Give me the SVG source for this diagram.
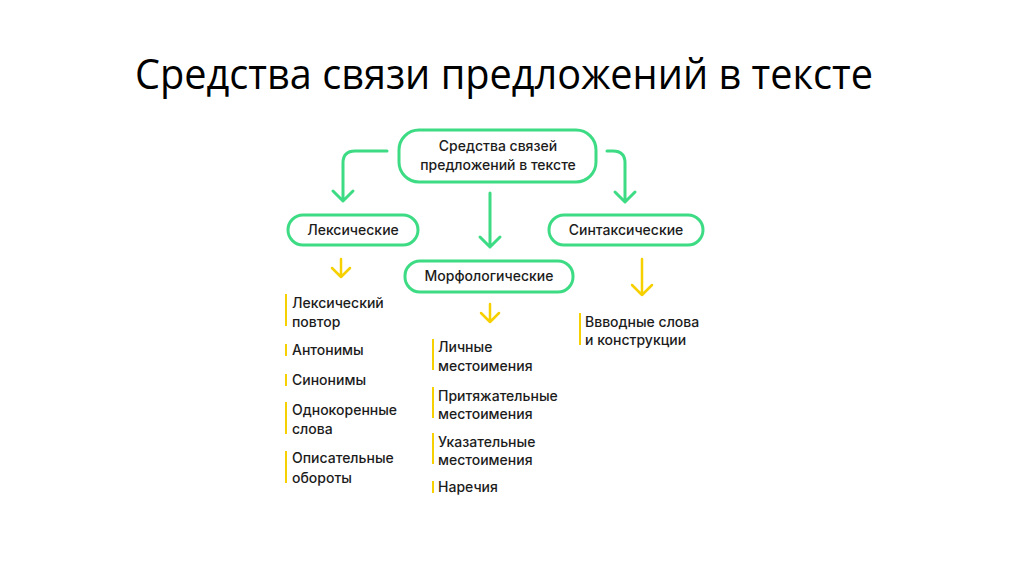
<svg xmlns="http://www.w3.org/2000/svg" width="1024" height="574" viewBox="0 0 1024 574">
<style>
.title{font-family:"Open Sans","Liberation Sans",sans-serif;font-size:42px;fill:#000}
.n{font-family:"Inter","Liberation Sans",sans-serif;font-size:14px;font-weight:500;fill:#1c1c1c}
.box{fill:#fff;stroke:#3ddc84;stroke-width:3}
.g{fill:none;stroke:#3ddc84;stroke-width:3;stroke-linecap:round;stroke-linejoin:round}
.y{fill:none;stroke:#f7d000;stroke-width:2.5;stroke-linecap:round;stroke-linejoin:round}
.bar{stroke:#f7d000;stroke-width:2}
</style>
<rect width="1024" height="574" fill="#fff"/>
<text class="title" x="135" y="89" textLength="738" lengthAdjust="spacingAndGlyphs">Средства связи предложений в тексте</text>

<g id="connectors">
<path class="g" d="M387,151 H355 Q343,151 343,163 V201 M333,191 L343,201 L353,191"/>
<path class="g" d="M607,151 H613 Q625,151 625,163 V202 M615,192 L625,202 L635,192"/>
<path class="g" d="M490,193 V247 M480,237 L490,247 L500,237"/>
<path class="y" d="M341,259 V277 M332,268 L341,277 L350,268"/>
<path class="y" d="M490,304 V322 M481,313 L490,322 L499,313"/>
<path class="y" d="M642,259 V295 M632,285 L642,295 L652,285"/>
</g>

<g id="root">
<rect class="box" x="399" y="130" width="197" height="52" rx="20"/>
<text class="n" x="498" y="151" text-anchor="middle">Средства связей</text>
<text class="n" x="498" y="170" text-anchor="middle">предложений в тексте</text>
</g>
<g id="lex">
<rect class="box" x="288" y="215" width="130" height="30" rx="15"/>
<text class="n" x="353" y="235" text-anchor="middle">Лексические</text>
</g>
<g id="synt">
<rect class="box" x="549" y="215" width="154" height="30" rx="15"/>
<text class="n" x="626" y="235" text-anchor="middle">Синтаксические</text>
</g>
<g id="morph">
<rect class="box" x="405" y="261" width="168" height="31" rx="15"/>
<text class="n" x="489" y="281" text-anchor="middle">Морфологические</text>
</g>

<g id="lex-list">
<line class="bar" x1="286" y1="294" x2="286" y2="326"/>
<text class="n" x="292" y="308">Лексический</text>
<text class="n" x="292" y="327">повтор</text>
<line class="bar" x1="286" y1="344" x2="286" y2="356"/>
<text class="n" x="292" y="355">Антонимы</text>
<line class="bar" x1="286" y1="374" x2="286" y2="386"/>
<text class="n" x="292" y="385">Синонимы</text>
<line class="bar" x1="286" y1="402" x2="286" y2="434"/>
<text class="n" x="292" y="415">Однокоренные</text>
<text class="n" x="292" y="434">слова</text>
<line class="bar" x1="286" y1="451" x2="286" y2="483"/>
<text class="n" x="292" y="463">Описательные</text>
<text class="n" x="292" y="483">обороты</text>
</g>

<g id="morph-list">
<line class="bar" x1="433" y1="339" x2="433" y2="370"/>
<text class="n" x="438" y="352">Личные</text>
<text class="n" x="438" y="371">местоимения</text>
<line class="bar" x1="433" y1="387" x2="433" y2="418"/>
<text class="n" x="438" y="401">Притяжательные</text>
<text class="n" x="438" y="419">местоимения</text>
<line class="bar" x1="433" y1="433" x2="433" y2="464"/>
<text class="n" x="438" y="447">Указательные</text>
<text class="n" x="438" y="465">местоимения</text>
<line class="bar" x1="433" y1="481" x2="433" y2="493"/>
<text class="n" x="438" y="492">Наречия</text>
</g>

<g id="synt-list">
<line class="bar" x1="580" y1="313" x2="580" y2="345"/>
<text class="n" x="585" y="327">Ввводные слова</text>
<text class="n" x="585" y="345">и конструкции</text>
</g>
</svg>
